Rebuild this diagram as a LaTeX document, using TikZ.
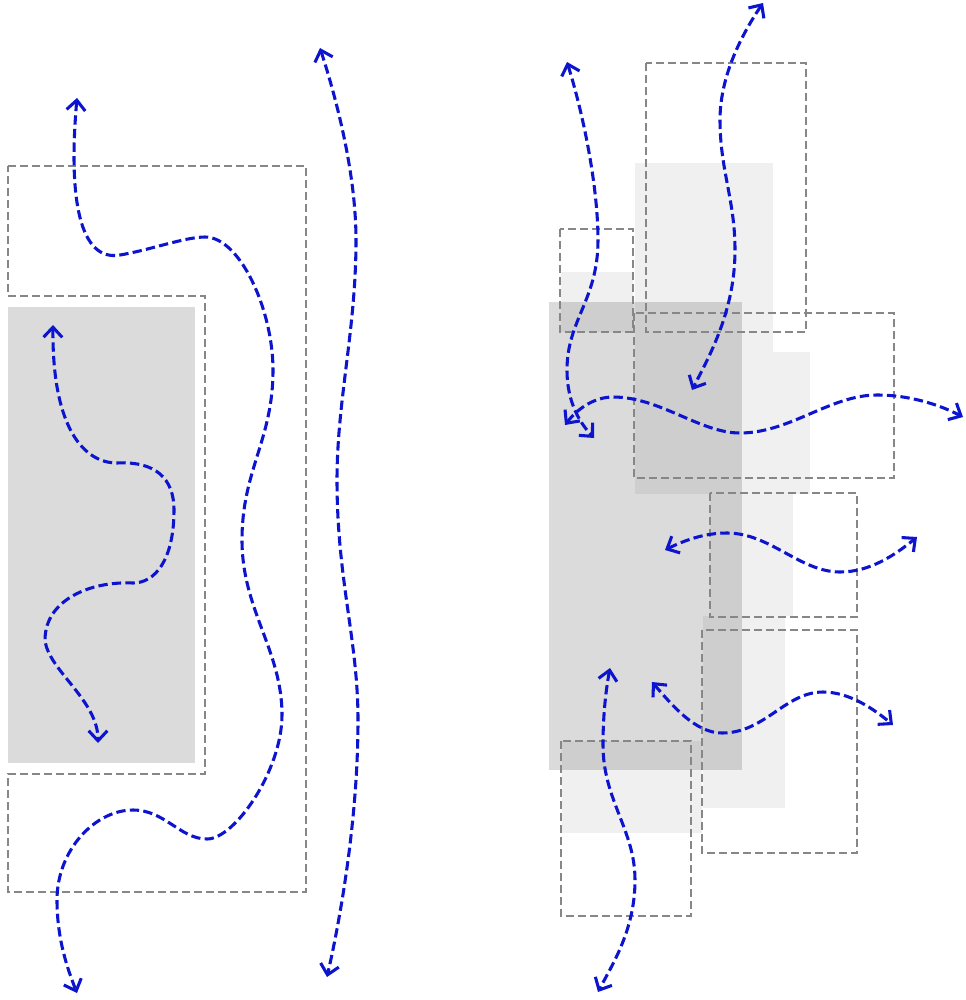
\documentclass[tikz,border=0pt]{standalone}
\usetikzlibrary{arrows.meta}
\definecolor{flowblue}{RGB}{12,20,205}
\definecolor{boxgray}{RGB}{135,135,135}
\tikzset{
  dbox/.style={draw=boxgray, line width=1.1pt, dash pattern=on 6pt off 3pt},
  ghost/.style={fill=black, fill opacity=0.06, draw=none},
  darkbox/.style={fill=black, fill opacity=0.14, draw=none},
  leftfill/.style={fill=black!14, draw=none},
  flow/.style={draw=flowblue, line width=2.3pt, dash pattern=on 7pt off 3.2pt,
    {Straight Barb[length=7.5pt,width=14pt]}-{Straight Barb[length=7.5pt,width=14pt]}},
}
\begin{document}
\begin{tikzpicture}[x=0.75pt,y=-0.75pt]
\useasboundingbox (0,0) rectangle (966,1000);
\fill[white] (0,0) rectangle (966,1000);

% ---------- left group ----------
\path[leftfill] (8,307) rectangle (195,763);
\draw[dbox] (8,166) -- (306,166) -- (306,892) -- (8,892) -- (8,774) -- (205,774) -- (205,296) -- (8,296) -- cycle;

\coordinate (c1a) at (77,98);
\coordinate (c1b) at (77,993);
\draw[flow] (c1a) .. controls (68,200) and (80,262) .. (120,255)
  .. controls (150,250) and (185,237) .. (205,237)
  .. controls (240,237) and (273,310) .. (273,370)
  .. controls (273,440) and (242,470) .. (242,540)
  .. controls (242,610) and (282,650) .. (282,715)
  .. controls (282,770) and (235,839) .. (207,839)
  .. controls (180,839) and (165,810) .. (133,810)
  .. controls (95,810) and (57,850) .. (57,900)
  .. controls (57,940) and (68,970) .. (c1b);

\coordinate (c2a) at (53,325);
\coordinate (c2b) at (98,743);
\draw[flow] (c2a) .. controls (52,430) and (85,463) .. (117,463)
  .. controls (155,461) and (174,478) .. (174,510)
  .. controls (174,560) and (155,583) .. (133,583)
  .. controls (90,581) and (45,600) .. (45,640)
  .. controls (48,670) and (98,700) .. (c2b);

\coordinate (c3a) at (320,48);
\coordinate (c3b) at (327,977);
\draw[flow] (c3a) .. controls (340,110) and (356,180) .. (356,240)
  .. controls (356,330) and (337,400) .. (337,480)
  .. controls (337,580) and (358,640) .. (358,720)
  .. controls (358,820) and (340,920) .. (c3b);

% ---------- right group: filled ----------
\path[darkbox] (549,302) rectangle (742,770);
\path[ghost] (635,163) rectangle (773,352);
\path[ghost] (561,272) rectangle (633,332);
\path[ghost] (635,352) rectangle (810,494);
\path[ghost] (710,494) rectangle (793,616);
\path[ghost] (703,616) rectangle (785,808);
\path[ghost] (562,741) rectangle (702,833);

% ---------- right group: dashed ----------
\draw[dbox] (646,63) rectangle (806,332);
\draw[dbox] (560,229) rectangle (633,332);
\draw[dbox] (634,313) rectangle (894,478);
\draw[dbox] (710,493) rectangle (857,617);
\draw[dbox] (702,630) rectangle (857,853);
\draw[dbox] (561,741) rectangle (691,916);

% ---------- right group: flows ----------
\coordinate (r1a) at (567,62);
\coordinate (r1b) at (594,438);
\draw[flow] (r1a) .. controls (585,120) and (598,190) .. (598,240)
  .. controls (598,300) and (567,320) .. (567,370)
  .. controls (567,405) and (582,425) .. (r1b);

\coordinate (r2a) at (565,425);
\coordinate (r2b) at (963,417);
\draw[flow] (r2a) .. controls (578,408) and (595,397) .. (613,397)
  .. controls (660,397) and (700,433) .. (740,433)
  .. controls (790,433) and (830,395) .. (877,395)
  .. controls (910,395) and (940,405) .. (r2b);

\coordinate (r3a) at (763,3);
\coordinate (r3b) at (692,390);
\draw[flow] (r3a) .. controls (738,40) and (720,80) .. (720,120)
  .. controls (720,170) and (735,200) .. (735,250)
  .. controls (735,310) and (710,355) .. (r3b);

\coordinate (r4a) at (665,550);
\coordinate (r4b) at (917,537);
\draw[flow] (r4a) .. controls (685,540) and (705,533) .. (727,533)
  .. controls (770,533) and (800,572) .. (840,572)
  .. controls (870,572) and (895,555) .. (r4b);

\coordinate (r5a) at (610,668);
\coordinate (r5b) at (598,992);
\draw[flow] (r5a) .. controls (605,695) and (603,720) .. (603,745)
  .. controls (603,800) and (635,830) .. (635,880)
  .. controls (635,930) and (612,965) .. (r5b);

\coordinate (r6a) at (652,682);
\coordinate (r6b) at (893,725);
\draw[flow] (r6a) .. controls (672,705) and (695,733) .. (722,733)
  .. controls (765,733) and (785,692) .. (823,692)
  .. controls (850,692) and (875,710) .. (r6b);
\end{tikzpicture}
\end{document}
